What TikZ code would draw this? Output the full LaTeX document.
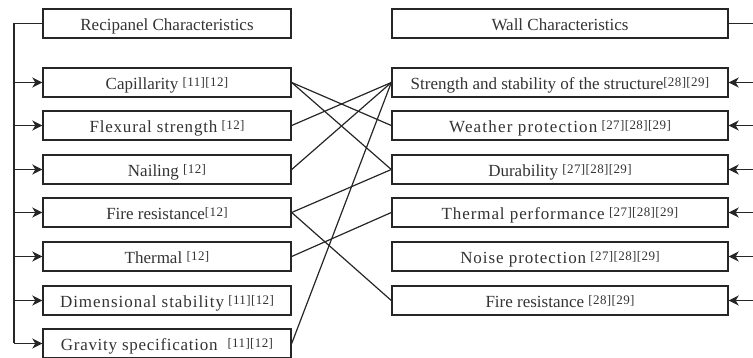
\documentclass[tikz,border=0pt]{standalone}
\usepackage{fontspec}
\setmainfont{Liberation Serif}
\usetikzlibrary{arrows.meta}
\newcommand{\rf}[1]{\raisebox{3pt}{\fontsize{13}{13}\selectfont\addfontfeature{LetterSpace=3}#1}}
\newcommand{\lsp}[2]{{\addfontfeature{LetterSpace=#1}#2}}
\begin{document}
\begin{tikzpicture}[x=1pt,y=-1pt,
  box/.style={draw=black!85, line width=1.4pt, minimum height=29pt, inner sep=0pt, text height=16pt, text depth=1pt, font=\fontsize{17}{17}\selectfont, text=black!80},
  lbox/.style={box, minimum width=248pt},
  rbox/.style={box, minimum width=336pt},
  link/.style={draw=black!85, line width=1.2pt},
  spine/.style={draw=black!85, line width=1.4pt},
  arr/.style={spine, -{Stealth[length=10pt,width=10pt,inset=3pt]}}]
\useasboundingbox (0,0) rectangle (753,358);
% left column
\node[lbox] (L0) at (167,23.5) {Recipanel Characteristics};
\node[lbox] (L1) at (167,82.5) {Capillarity \rf{[11][12]}};
\node[lbox] (L2) at (167,125.5) {\lsp{4.8}{Flexural strength} \rf{[12]}};
\node[lbox] (L3) at (167,169.5) {Nailing \rf{[12]}};
\node[lbox] (L4) at (167,212.5) {Fire resistance\rf{[12]}};
\node[lbox] (L5) at (167,256.5) {Thermal \rf{[12]}};
\node[lbox] (L6) at (167,300.5) {\lsp{5.6}{Dimensional stability} \rf{[11][12]}};
\node[lbox] (L7) at (167,343.5) {\lsp{4.2}{Gravity specification}\hspace{10pt}\rf{[11][12]}};
% right column
\node[rbox] (R0) at (560,23.5) {Wall Characteristics};
\node[rbox] (R1) at (560,82.5) {Strength and stability of the structure\rf{[28][29]}};
\node[rbox] (R2) at (560,125.5) {\lsp{6.9}{Weather protection} \rf{[27][28][29]}};
\node[rbox] (R3) at (560,169.5) {Durability \rf{[27][28][29]}};
\node[rbox] (R4) at (560,212.5) {\lsp{5.3}{Thermal performance} \rf{[27][28][29]}};
\node[rbox] (R5) at (560,256.5) {\lsp{5.5}{Noise protection} \rf{[27][28][29]}};
\node[rbox] (R6) at (560,300.5) {Fire resistance \rf{[28][29]}};
% left spine
\coordinate (s0) at (14,23.5);
\coordinate (s7) at (14,343.5);
\draw[spine] (L0.west) -- (s0) -- (s7);
\foreach \i in {1,...,7} \draw[arr] (s0 |- L\i.west) -- (L\i.west);
% right spine (off the picture edge)
\coordinate (e0) at (756,23.5);
\draw[spine] (R0.east) -- (e0);
\foreach \i in {1,...,6} \draw[arr] (e0 |- R\i.east) -- (R\i.east);
% links
\draw[link] (L1.east) -- (R2.west);
\draw[link] (L1.east) -- (R3.west);
\draw[link] (L2.east) -- (R1.west);
\draw[link] (L3.east) -- (R1.west);
\draw[link] (L4.east) -- (R3.west);
\draw[link] (L4.east) -- (R6.west);
\draw[link] (L5.east) -- (R4.west);
\draw[link] (L7.east) -- (R1.west);
\end{tikzpicture}
\end{document}
